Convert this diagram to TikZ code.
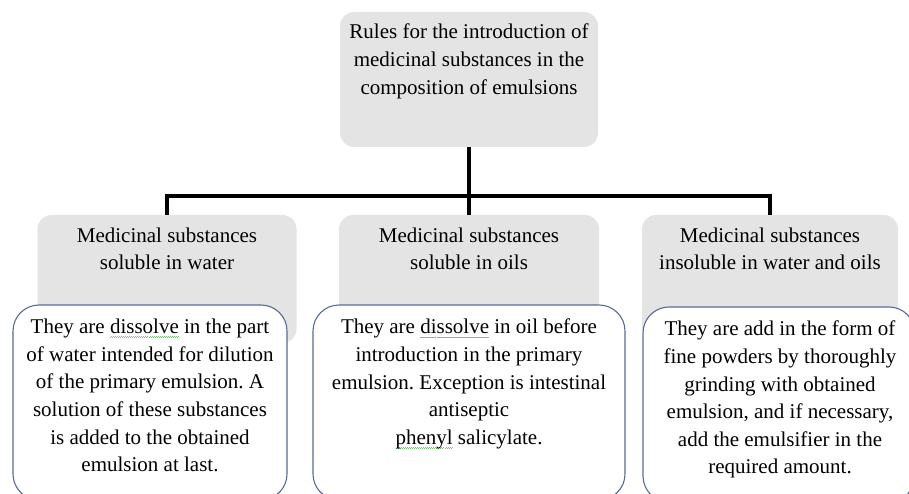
\documentclass[tikz,border=0pt]{standalone}
\usepackage{fontspec}
\setmainfont{Liberation Serif}
\usepackage{tikz}
\usetikzlibrary{positioning,calc}
\definecolor{boxgrey}{RGB}{228,228,228}
\definecolor{rimblue}{RGB}{88,106,152}
\definecolor{spellgreen}{RGB}{120,195,120}
\tikzset{
 headbox/.style={fill=boxgrey,rounded corners=14pt,inner sep=0pt},
 notebox/.style={draw=rimblue,fill=white,line width=1.1pt,rounded corners=26pt,inner sep=0pt},
 boxtext/.style={align=center,anchor=north,inner sep=0pt,font=\fontsize{21}{27.6}\selectfont\frenchspacing},
 bus/.style={line width=4pt}
}
% green spell-check squiggle under a word
\newcommand\spellmark[1]{\leavevmode\setbox0\hbox{#1}\rlap{\raisebox{-4pt}{\color{spellgreen}\hbox to \wd0{\xleaders\hbox to 2pt{\rule{1pt}{0.7pt}\raisebox{0.7pt}{\rule{1pt}{0.7pt}}}\hfill}}}\box0\relax}

\begin{document}
\begin{tikzpicture}[x=1pt,y=-1pt]
 \clip (0,0) rectangle (909,494);
 % top box
 \node[headbox,minimum width=258pt,minimum height=135pt] (rules) at (469,79.5) {};
 \node[boxtext] (rulestxt) at (469,24)
   {Rules for the introduction of\\medicinal substances in the\\composition of emulsions};
 % the three groups
 \foreach \id/\cx/\bw/\txt in {L/167/259/{Medicinal substances\\soluble in water},
   M/469/260/{Medicinal substances\\soluble in oils},
   R/770/256/{Medicinal substances\\insoluble in water and oils}}{
  \node[headbox,minimum width=\bw pt,minimum height=128pt] (g\id) at (\cx,279) {};
  \node[boxtext] (g\id txt) at (\cx,227.5) {\txt};
 }
 % tree lines
 \coordinate (hub) at (469,196);
 \draw[bus] (gL.north) |- (hub) -| (gR.north);
 \draw[bus] (rules.south) -- (gM.north);
 % notes
 \node[notebox,minimum width=274pt,minimum height=195pt] (nL) at (150,402.5) {};
 \node[notebox,minimum width=312pt,minimum height=195pt] (nM) at (469,402.5) {};
 \node[notebox,minimum width=272pt,minimum height=195pt] (nR) at (779,404.5) {};
 \node[boxtext] (nLtxt) at (150,319)
   {They are \spellmark{dissolve} in the part\\of water intended for dilution\\of the primary emulsion. A\\solution of these substances\\is added to the obtained\\emulsion at last.};
 \node[boxtext] (nMtxt) at (469,319)
   {They are \spellmark{dissolve} in oil before\\introduction in the primary\\emulsion. Exception is intestinal\\antiseptic\\\spellmark{phenyl} salicylate.};
 \node[boxtext] (nRtxt) at (780,321)
   {They are add in the form of\\fine powders by thoroughly\\grinding with obtained\\emulsion, and if necessary,\\add the emulsifier in the\\required amount.};
\end{tikzpicture}
\end{document}
